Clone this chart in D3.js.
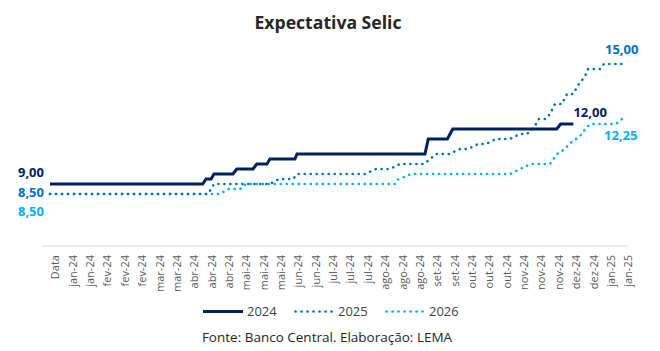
<!DOCTYPE html>
<html>
<head>
<meta charset="utf-8">
<script src="https://cdn.jsdelivr.net/npm/d3@7"></script>
<style>
  body { margin: 0; background: #fff; font-family: "Open Sans", sans-serif; }
</style>
</head>
<body>
<div id="chart"></div>
<script>
// category labels along the x axis (one every ~8 business days)
const tickLabels = ["Data","jan-24","jan-24","fev-24","fev-24","fev-24","mar-24","mar-24",
  "abr-24","abr-24","abr-24","mai-24","mai-24","mai-24","jun-24","jun-24",
  "jul-24","jul-24","jul-24","ago-24","ago-24","ago-24","set-24","set-24",
  "out-24","out-24","out-24","nov-24","nov-24","nov-24","dez-24","dez-24","jan-25","jan-25"];

// [position in label units, Selic expectation %]
const sel2024 = [[-0.29,9],[8.51,9],[8.70,9.25],[8.99,9.25],[9.16,9.5],[10.25,9.5],[10.47,9.75],
  [11.41,9.75],[11.62,10],[12.21,10],[12.38,10.25],[13.82,10.25],[13.94,10.5],[21.31,10.5],
  [21.50,11.25],[22.60,11.25],[22.91,11.75],[28.90,11.75],[29.13,12],[29.86,12]];

const sel2025 = [[-0.29,8.5],[8.81,8.5],[9.16,9],[12.38,9],[12.90,9.25],[13.71,9.25],[13.94,9.5],
  [17.86,9.5],[18.49,9.75],[19.30,9.75],[19.87,10],[21.26,10],[21.95,10.5],[22.70,10.5],
  [23.33,10.75],[23.79,10.75],[24.37,11],[24.83,11],[25.40,11.25],[26.21,11.25],[26.79,11.5],
  [27.19,11.5],[27.48,11.75],[27.71,12],[27.88,12.25],[28.28,12.25],[28.51,12.5],[28.80,13],
  [29.20,13],[29.49,13.5],[29.84,13.5],[30.18,14],[30.41,14.25],[30.59,14.5],[30.70,14.75],
  [31.39,14.75],[31.62,15],[32.89,15]];

const sel2026 = [[-0.29,8.5],[9.50,8.5],[9.97,8.75],[10.66,8.75],[11.00,9],[19.59,9],[19.70,9.2],
  [20.28,9.42],[20.56,9.5],[26.21,9.5],[26.79,9.75],[27.42,10],[28.51,10],[28.92,10.5],
  [29.38,10.75],[29.61,11],[30.01,11.25],[30.36,11.5],[30.53,11.75],[30.82,12],[32.32,12],[32.66,12.25]];

const seriesNames = ["2024","2025","2026"];
const seriesColors = ["#002060","#0070c0","#00b0f0"];

window.addEventListener("load", main);

function main(){
  const width = 660, height = 351;

  const x = d3.scaleLinear().domain([0, 33]).range([55, 627.9]);
  const y = d3.scaleLinear().domain([5.9, 16]).range([246, 44]);

  const svg = d3.select("#chart").append("svg")
    .attr("width", width)
    .attr("height", height);

  svg.append("text")
    .attr("x", 328).attr("y", 28.5)
    .attr("text-anchor", "middle")
    .attr("font-size", 17.6).attr("font-weight", "bold")
    .attr("fill", "#262626")
    .text("Expectativa Selic");

  // x axis
  const xAxis = svg.append("g")
    .attr("transform", `translate(0,${y(5.9)})`)
    .call(d3.axisBottom(x).tickValues(d3.range(tickLabels.length))
      .tickFormat(i => tickLabels[i]).tickSize(0));
  xAxis.select(".domain").remove();
  xAxis.selectAll("text")
    .attr("transform", "rotate(-90)")
    .attr("text-anchor", "end")
    .attr("x", -9).attr("y", 0).attr("dy", "0.35em")
    .attr("font-family", "Open Sans")
    .attr("font-size", 11)
    .attr("fill", "#595959");
  svg.append("line")
    .attr("x1", x(-0.75)).attr("x2", x(33))
    .attr("y1", y(5.9)).attr("y2", y(5.9))
    .attr("stroke", "#d9d9d9").attr("stroke-width", 1);

  const line = d3.line().x(d => x(d[0])).y(d => y(d[1]));
  const allSeries = [sel2024, sel2025, sel2026];

  // draw 2026 first so the darker series sit on top
  [2, 1, 0].forEach(i => {
    const p = svg.append("path")
      .datum(allSeries[i])
      .attr("d", line)
      .attr("fill", "none")
      .attr("stroke", seriesColors[i]);
    if (i === 0) {
      p.attr("stroke-width", 3);
    } else {
      p.attr("stroke-width", 2.6)
       .attr("stroke-linecap", "round")
       .attr("stroke-dasharray", "0.1 5.9");
    }
  });

  // start / end value labels
  const fmt = v => d3.format(".2f")(v).replace(".", ",");
  const startLabels = [
    {s: 0, dy: -7.3},
    {s: 1, dy: 3.3},
    {s: 2, dy: 22}
  ];
  startLabels.forEach(l => {
    const d = allSeries[l.s][0];
    svg.append("text")
      .attr("x", 44).attr("y", y(d[1]) + l.dy)
      .attr("text-anchor", "end")
      .attr("font-size", 13).attr("font-weight", "bold")
      .attr("fill", seriesColors[l.s])
      .text(fmt(d[1]));
  });
  const endLabels = [
    {s: 0, dx: 0, dy: -6.7},
    {s: 1, dx: -21, dy: -10},
    {s: 2, dx: -18, dy: 21}
  ];
  endLabels.forEach(l => {
    const d = allSeries[l.s][allSeries[l.s].length - 1];
    svg.append("text")
      .attr("x", x(d[0]) + l.dx).attr("y", y(d[1]) + l.dy)
      .attr("font-size", 13).attr("font-weight", "bold")
      .attr("fill", seriesColors[l.s])
      .text(fmt(d[1]));
  });

  // legend
  const legend = svg.append("g").attr("transform", "translate(203,311.5)");
  seriesNames.forEach((name, i) => {
    const g = legend.append("g").attr("transform", `translate(${i * 91},0)`);
    const ln = g.append("line")
      .attr("x1", i === 0 ? 0 : 1.5).attr("x2", 40).attr("y1", 0).attr("y2", 0)
      .attr("stroke", seriesColors[i]);
    if (i === 0) ln.attr("stroke-width", 3);
    else ln.attr("stroke-width", 2.6).attr("stroke-linecap", "round").attr("stroke-dasharray", "0.1 5.9");
    g.append("text")
      .attr("x", 44).attr("y", 4.7)
      .attr("font-size", 13).attr("fill", "#404040")
      .text(name);
  });

  svg.append("text")
    .attr("x", 327).attr("y", 342)
    .attr("text-anchor", "middle")
    .attr("font-size", 13.5).attr("fill", "#262626")
    .text("Fonte: Banco Central. Elaboração: LEMA");
}
</script>
</body>
</html>
